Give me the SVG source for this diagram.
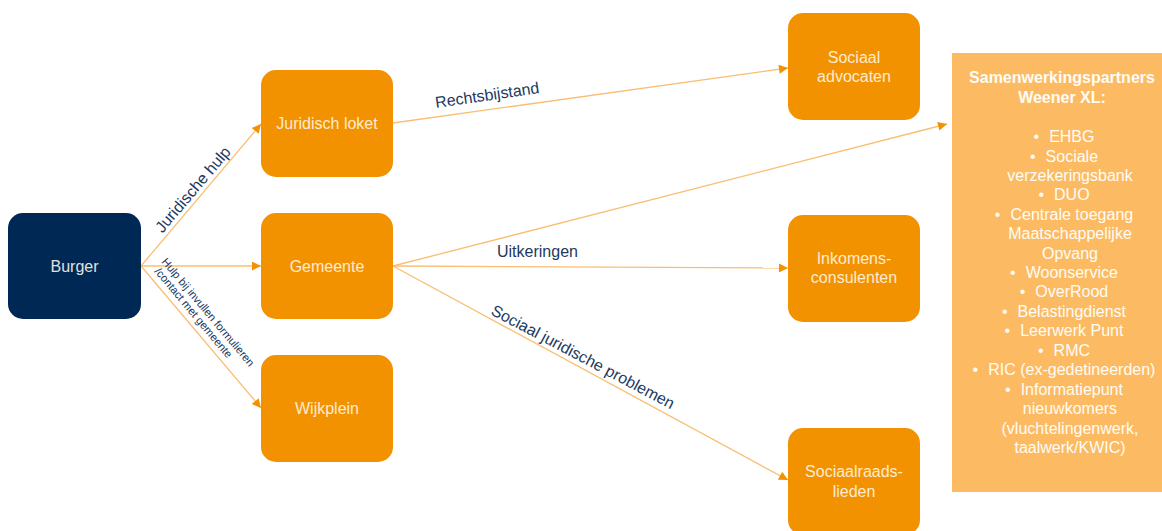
<svg xmlns="http://www.w3.org/2000/svg" width="1162" height="531" viewBox="0 0 1162 531">
<defs>
<marker id="ah" viewBox="0 0 10 10" refX="10" refY="5" markerWidth="10" markerHeight="9" markerUnits="userSpaceOnUse" orient="auto">
<path d="M0,0 L10,5 L0,10 z" fill="#F39200"/>
</marker>
<style>
.node{fill:#F39200}
.navy{fill:#002855}
.nt{font-family:"Liberation Sans",Arial,sans-serif;font-size:16px;fill:#FDEBD3;text-anchor:middle}
.bt{font-family:"Liberation Sans",Arial,sans-serif;font-size:16px;fill:#E4E0DC;text-anchor:middle}
.lbl{font-family:"Liberation Sans",Arial,sans-serif;font-size:16px;fill:#22395F}
.sm{font-family:"Liberation Sans",Arial,sans-serif;font-size:11.2px;fill:#22395F}
.conn{stroke:#F9BE72;stroke-width:1.3;fill:none;marker-end:url(#ah)}
.pt{font-family:"Liberation Sans",Arial,sans-serif;font-size:16px;fill:#FFFCF6;text-anchor:middle}
.ptb{font-weight:bold}
</style>
</defs>
<rect width="1162" height="531" fill="#FFFFFF"/>

<g id="connectors">
<line class="conn" x1="141" y1="266" x2="261" y2="124"/>
<line class="conn" x1="141" y1="266" x2="261" y2="266"/>
<line class="conn" x1="141" y1="266" x2="261" y2="408"/>
<line class="conn" x1="393" y1="123" x2="788" y2="68"/>
<line class="conn" x1="393" y1="266" x2="947" y2="124"/>
<line class="conn" x1="393" y1="266" x2="788" y2="268"/>
<line class="conn" x1="393" y1="266" x2="788" y2="480"/>
</g>

<g id="labels">
<text class="lbl" transform="translate(197,193) rotate(-49.6)" text-anchor="middle">Juridische hulp</text>
<g transform="translate(161,262) rotate(50)">
<text class="sm" x="0" y="0">Hulp bij invullen  formulieren</text>
<text class="sm" x="3" y="11.5">/contact met gemeente</text>
</g>
<text class="lbl" transform="translate(436,108) rotate(-8.2)">Rechtsbijstand</text>
<text class="lbl" x="497" y="257">Uitkeringen</text>
<text class="lbl" transform="translate(490,314) rotate(27.8)">Sociaal juridische problemen</text>
</g>

<g id="burger">
<rect class="navy" x="8" y="213" width="133" height="106" rx="15"/>
<text class="bt" x="74.5" y="272">Burger</text>
</g>

<g id="juridisch-loket">
<rect class="node" x="261" y="70" width="132" height="107" rx="15"/>
<text class="nt" x="327" y="129">Juridisch loket</text>
</g>

<g id="gemeente">
<rect class="node" x="261" y="213" width="132" height="106" rx="15"/>
<text class="nt" x="327" y="272">Gemeente</text>
</g>

<g id="wijkplein">
<rect class="node" x="261" y="355" width="132" height="107" rx="15"/>
<text class="nt" x="327" y="414">Wijkplein</text>
</g>

<g id="sociaal-advocaten">
<rect class="node" x="788" y="13" width="132" height="107" rx="15"/>
<text class="nt" x="854" y="63">Sociaal</text>
<text class="nt" x="854" y="82">advocaten</text>
</g>

<g id="inkomensconsulenten">
<rect class="node" x="788" y="215" width="132" height="107" rx="15"/>
<text class="nt" x="854" y="264">Inkomens-</text>
<text class="nt" x="854" y="283">consulenten</text>
</g>

<g id="sociaalraadslieden">
<rect class="node" x="788" y="428" width="132" height="107" rx="15"/>
<text class="nt" x="854" y="477">Sociaalraads-</text>
<text class="nt" x="854" y="497">lieden</text>
</g>

<g id="samenwerkingspartners">
<rect x="952" y="53" width="212" height="439" fill="#FCBB62"/>
<text class="pt ptb" x="1062" y="83">Samenwerkingspartners</text>
<text class="pt ptb" x="1062" y="103">Weener XL:</text>
<text class="pt" x="1064" y="142">•<tspan dx="10">EHBG</tspan></text>
<text class="pt" x="1064" y="162">•<tspan dx="10">Sociale</tspan></text>
<text class="pt" x="1070" y="181">verzekeringsbank</text>
<text class="pt" x="1064" y="200">•<tspan dx="10">DUO</tspan></text>
<text class="pt" x="1064" y="220">•<tspan dx="10">Centrale toegang</tspan></text>
<text class="pt" x="1070" y="239">Maatschappelijke</text>
<text class="pt" x="1070" y="259">Opvang</text>
<text class="pt" x="1064" y="278">•<tspan dx="10">Woonservice</tspan></text>
<text class="pt" x="1064" y="297">•<tspan dx="10">OverRood</tspan></text>
<text class="pt" x="1064" y="317">•<tspan dx="10">Belastingdienst</tspan></text>
<text class="pt" x="1064" y="336">•<tspan dx="10">Leerwerk Punt</tspan></text>
<text class="pt" x="1064" y="356">•<tspan dx="10">RMC</tspan></text>
<text class="pt" x="1064" y="375">•<tspan dx="10">RIC (ex-gedetineerden)</tspan></text>
<text class="pt" x="1064" y="395">•<tspan dx="10">Informatiepunt</tspan></text>
<text class="pt" x="1070" y="414">nieuwkomers</text>
<text class="pt" x="1070" y="434">(vluchtelingenwerk,</text>
<text class="pt" x="1070" y="453">taalwerk/KWIC)</text>
</g>
</svg>
